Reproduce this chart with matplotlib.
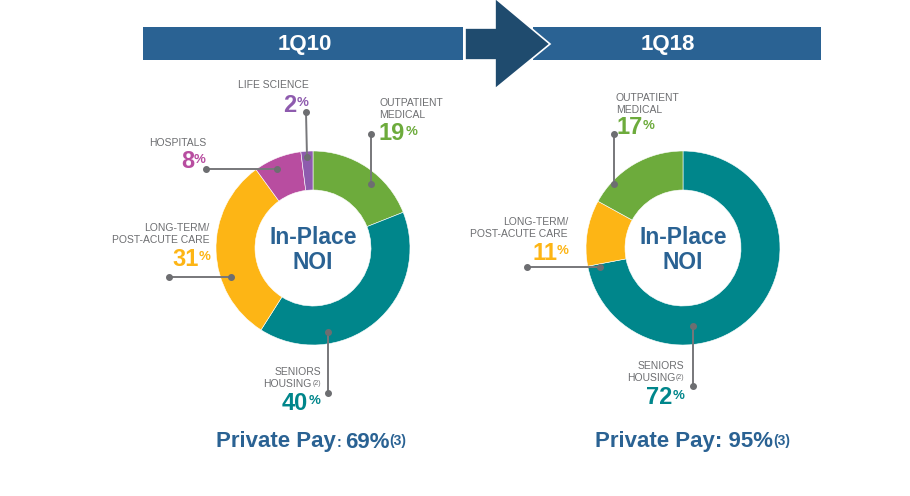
import matplotlib.pyplot as plt
from matplotlib.patches import Polygon, Rectangle

plt.rcParams['font.family'] = ['Liberation Sans', 'DejaVu Sans']

# data
left_labels = ['OUTPATIENT\nMEDICAL', 'SENIORS\nHOUSING', 'LONG-TERM/\nPOST-ACUTE CARE', 'HOSPITALS', 'LIFE SCIENCE']
left_values = [19, 40, 31, 8, 2]
left_colors = ['#6DAB3C', '#00868B', '#FDB515', '#B84DA0', '#8E5BAE']

right_labels = ['SENIORS\nHOUSING', 'LONG-TERM/\nPOST-ACUTE CARE', 'OUTPATIENT\nMEDICAL']
right_values = [72, 11, 17]
right_colors = ['#00868B', '#FDB515', '#6DAB3C']

periods = ['1Q10', '1Q18']
private_pay = [69, 95]

W, H = 910, 496
BLUE = '#2A6293'
NAVY = '#1F4B6E'
GREY = '#6D6E71'
LINE = '#77777A'

fig = plt.figure(figsize=(W / 100, H / 100), dpi=100)
ax = fig.add_axes([0, 0, 1, 1])

# donuts (y axis inverted later: counterclock + startangle -90 -> clockwise from top)
for vals, cols, cx in [(left_values, left_colors, 313), (right_values, right_colors, 683)]:
    ax.pie(vals, colors=cols, center=(cx, 248), radius=97, startangle=-90, counterclock=True,
           wedgeprops=dict(width=39, edgecolor='white', linewidth=0.4))
    ax.text(cx, 250, 'In-Place\nNOI', ha='center', va='center', fontsize=16.5, fontweight='bold',
            color=BLUE, linespacing=1.08)

ax.set_xlim(0, W)
ax.set_ylim(H, 0)
ax.axis('off')

# header bars and arrow
ax.add_patch(Rectangle((143, 27), 320, 33, color=BLUE, lw=0))
ax.add_patch(Rectangle((533, 27), 288, 33, color=BLUE, lw=0))
ax.add_patch(Polygon([(465, 28), (495, 28), (495, -2), (550, 44), (495, 89), (495, 60), (465, 60)],
                     closed=True, facecolor=NAVY, edgecolor='white', lw=1.2))
ax.text(305, 44.5, periods[0], ha='center', va='center', color='white', fontsize=16, fontweight='bold')
ax.text(668, 44.5, periods[1], ha='center', va='center', color='white', fontsize=16, fontweight='bold')


def leader(x0, y0, x1, y1):
    ax.plot([x0, x1], [y0, y1], color=LINE, lw=1.4, solid_capstyle='butt')
    ax.plot([x0, x1], [y0, y1], 'o', color=GREY, ms=4)


def pct(x, y, value, color):
    t = ax.text(x, y, str(value), ha='left', va='center', fontsize=17, fontweight='bold', color=color)
    ax.annotate('%', xy=(1, 1), xycoords=t, xytext=(0, -2.5), textcoords='offset points',
                ha='left', va='top', fontsize=9.5, fontweight='bold', color=color)


def label(x, y, s, ha):
    ax.text(x, y, s, ha=ha, va='center', fontsize=7.5, color=GREY, linespacing=1.15)


def housing(xr, y):
    ax.text(xr, y - 12, 'SENIORS', ha='right', va='center', fontsize=7.5, color=GREY)
    t = ax.text(xr - 9, y, 'HOUSING', ha='right', va='center', fontsize=7.5, color=GREY)
    ax.annotate('(2)', xy=(1, 1), xycoords=t, xytext=(0.3, -0.5), textcoords='offset points',
                ha='left', va='top', fontsize=5, color=GREY)


# left chart annotations
label(273, 85, left_labels[4], 'center')
pct(283, 105, left_values[4], left_colors[4])
leader(306, 112, 307, 157)

label(206, 143, left_labels[3], 'right')
pct(181, 162, left_values[3], left_colors[3])
leader(206, 169, 277, 169)

label(379, 109, left_labels[0], 'left')
pct(379, 134, left_values[0], left_colors[0])
leader(371, 134, 371, 184)

label(209, 234, left_labels[2], 'right')
pct(172, 259, left_values[2], left_colors[2])
leader(169, 277, 231, 277)

housing(321, 384)
pct(282, 403, left_values[1], left_colors[1])
leader(328, 332, 328, 393)

# right chart annotations
label(616, 104, right_labels[2], 'left')
pct(616, 128, right_values[2], right_colors[2])
leader(614, 134, 614, 184)

label(568, 228, right_labels[1], 'right')
pct(532, 253, right_values[1], right_colors[1])
leader(527, 267, 600, 267)

housing(684, 378)
pct(646, 398, right_values[0], right_colors[0])
leader(693, 326, 693, 386)

# private pay lines
t = ax.text(216, 442, 'Private Pay', ha='left', va='center', fontsize=16, fontweight='bold', color=BLUE)
c = ax.annotate(':', xy=(1, 1), xycoords=t, xytext=(0.5, -3), textcoords='offset points',
                ha='left', va='top', fontsize=10, fontweight='bold', color=BLUE)
v = ax.annotate(f'{private_pay[0]}%', xy=(1, 1), xycoords=c, xytext=(2.5, 3), textcoords='offset points',
                ha='left', va='top', fontsize=16, fontweight='bold', color=BLUE)
ax.annotate('(3)', xy=(1, 1), xycoords=v, xytext=(0.3, -2), textcoords='offset points',
            ha='left', va='top', fontsize=10, fontweight='bold', color=BLUE)

t2 = ax.text(595, 442, f'Private Pay: {private_pay[1]}%', ha='left', va='center', fontsize=16,
             fontweight='bold', color=BLUE)
ax.annotate('(3)', xy=(1, 1), xycoords=t2, xytext=(0.3, -2), textcoords='offset points',
            ha='left', va='top', fontsize=10, fontweight='bold', color=BLUE)

fig.savefig('out.png', dpi=100)
